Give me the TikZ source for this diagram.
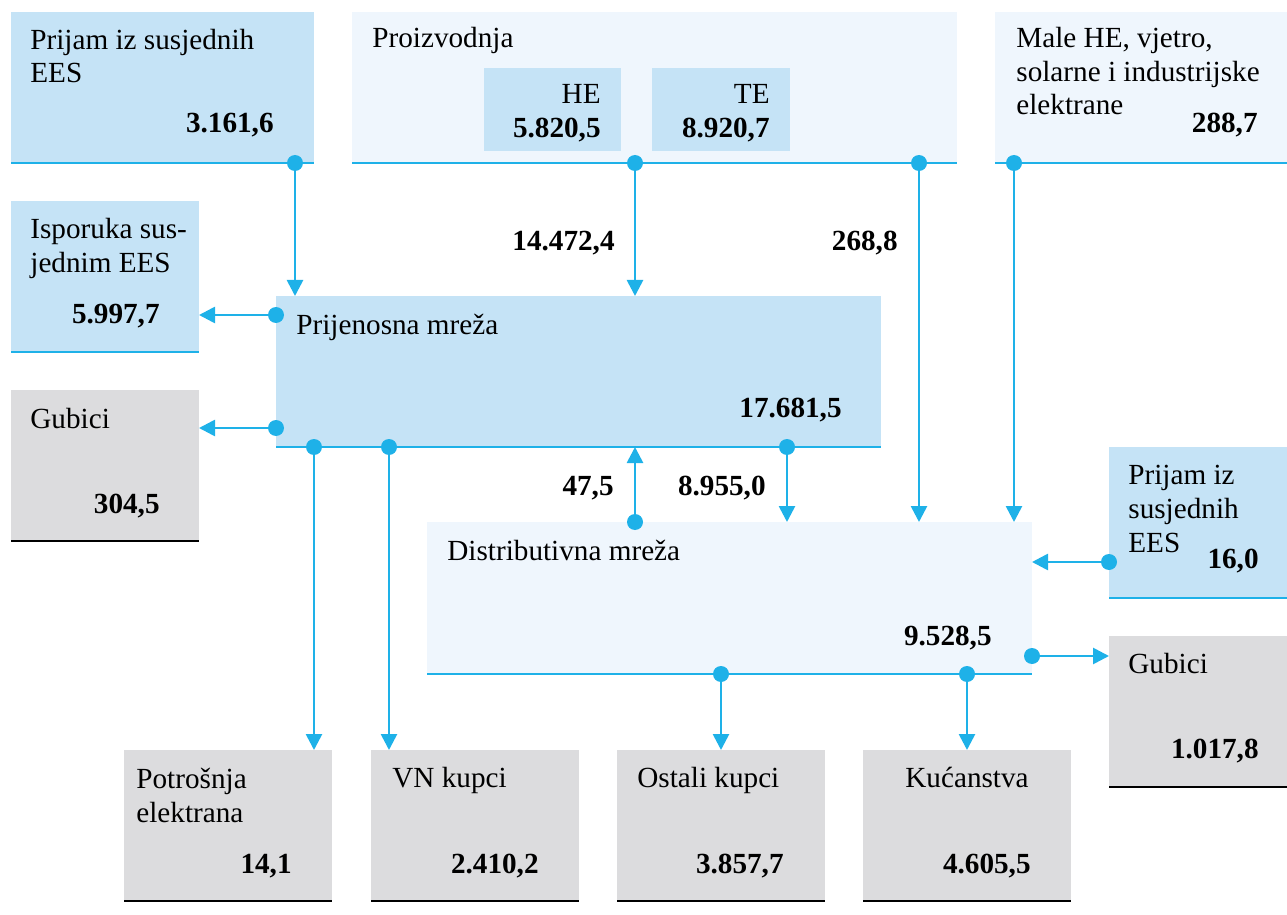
\documentclass[tikz,border=0pt]{standalone}
\usepackage{fontspec}
\setmainfont{Liberation Serif}
\usetikzlibrary{fit,arrows.meta}
\definecolor{lb}{HTML}{C5E3F6}
\definecolor{vlb}{HTML}{EFF6FD}
\definecolor{gr}{HTML}{DCDCDE}
\definecolor{cy}{HTML}{1EB1E8}
\begin{document}
\begin{tikzpicture}[x=0.5pt,y=-0.5pt,
  box/.style={inner sep=0pt, outer sep=0pt, draw=none},
  lbbox/.style={box, fill=lb},
  vlbbox/.style={box, fill=vlb},
  grbox/.style={box, fill=gr},
  txt/.style={anchor=base west, inner sep=0pt, align=left, font=\fontsize{14.6}{16.8}\selectfont},
  num/.style={anchor=base east, inner sep=0pt, font=\fontsize{14.6}{16.8}\selectfont\bfseries},
  lbl/.style={anchor=base east, inner sep=0pt, font=\fontsize{14.6}{16.8}\selectfont},
  flow/.style={draw=cy, line width=1.35pt, -{Triangle[length=8pt,width=8pt]}},
  dot/.style={circle, fill=cy, inner sep=0pt, minimum size=8pt},
  bl/.style={draw=cy, line width=1.2pt},
  kl/.style={draw=black, line width=1.3pt}]
\useasboundingbox (0,0) rectangle (1287,915);

% ---- boxes
\node[lbbox, fit={(11,12)(314,163)}] (prijamL) {};
\node[vlbbox, fit={(352,12)(957,163)}] (proizv) {};
\node[lbbox, fit={(484,68)(621,151)}] (he) {};
\node[lbbox, fit={(652,68)(790,151)}] (te) {};
\node[vlbbox, fit={(995,12)(1287,163)}] (male) {};
\node[lbbox, fit={(11,201)(199,352)}] (ispor) {};
\node[grbox, fit={(11,390)(199,541)}] (gubL) {};
\node[lbbox, fit={(276,296)(881,447)}] (prijen) {};
\node[vlbbox, fit={(427,522)(1032,674)}] (distr) {};
\node[lbbox, fit={(1109,447)(1287,598)}] (prijamR) {};
\node[grbox, fit={(1109,636)(1287,787)}] (gubR) {};
\node[grbox, fit={(124,750)(332,901)}] (potr) {};
\node[grbox, fit={(371,750)(579,901)}] (vn) {};
\node[grbox, fit={(617,750)(825,901)}] (ostali) {};
\node[grbox, fit={(863,750)(1071,901)}] (kuc) {};

% ---- bottom rules
\foreach \n in {prijamL,proizv,male,ispor,prijen,distr,prijamR}
  \draw[bl] (\n.south west) -- (\n.south east);
\foreach \n in {gubL,gubR,potr,vn,ostali,kuc}
  \draw[kl] (\n.south west) -- (\n.south east);

% ---- texts (base anchor = baseline of the last line)
\node[txt] (t1) at (30,83) {Prijam iz susjednih\\EES};
\node[num] (v1) at (274,133) {3.161,6};
\node[txt] (t2) at (372,48) {Proizvodnja};
\node[lbl] (the) at (601,104) {HE};
\node[num] (vhe) at (601,138) {5.820,5};
\node[lbl] (tte) at (770,104) {TE};
\node[num] (vte) at (770,138) {8.920,7};
\node[txt] (t3) at (1016,115) {Male HE, vjetro,\\solarne i industrijske\\elektrane};
\node[num] (v3) at (1258,133) {288,7};
\node[txt] (t4) at (30,272) {Isporuka sus-\\jednim EES};
\node[num] (v4) at (160,323) {5.997,7};
\node[txt] (t5) at (30,428) {Gubici};
\node[num] (v5) at (160,513) {304,5};
\node[txt] (t6) at (296,335) {Prijenosna mreža};
\node[num] (v6) at (842,417) {17.681,5};
\node[txt] (t7) at (447,560) {Distributivna mreža};
\node[num] (v7) at (992,645) {9.528,5};
\node[txt] (t8) at (1128,552) {Prijam iz\\susjednih\\EES};
\node[num] (v8) at (1259,568) {16,0};
\node[txt] (t9) at (1128,673) {Gubici};
\node[num] (v9) at (1259,758) {1.017,8};
\node[txt] (t10) at (136,822) {Potrošnja\\elektrana};
\node[num] (v10) at (292,873) {14,1};
\node[txt] (t11) at (392,787) {VN kupci};
\node[num] (v11) at (539,873) {2.410,2};
\node[txt] (t12) at (637,787) {Ostali kupci};
\node[num] (v12) at (784,873) {3.857,7};
\node[txt] (t13) at (905,787) {Kućanstva};
\node[num] (v13) at (1031,873) {4.605,5};

% flow labels
\node[num] (f1) at (615,250) {14.472,4};
\node[num] (f2) at (898,250) {268,8};
\node[num] (f3) at (614,495) {47,5};
\node[num] (f4) at (766,495) {8.955,0};

% ---- connectors
\coordinate (c1) at (295,163);
\coordinate (c2) at (635,163);
\coordinate (c3) at (919,163);
\coordinate (c4) at (1014,163);
\coordinate (c5) at (276,315);
\coordinate (c6) at (276,428);
\coordinate (c7) at (314,447);
\coordinate (c8) at (389,447);
\coordinate (c9) at (635,522);
\coordinate (c10) at (787,447);
\coordinate (c11) at (721,674);
\coordinate (c12) at (967,674);
\coordinate (c13) at (1032,656);
\coordinate (c14) at (1109,562);

\draw[flow] (c1) -- (c1 |- prijen.north);
\draw[flow] (c2) -- (c2 |- prijen.north);
\draw[flow] (c3) -- (c3 |- distr.north);
\draw[flow] (c4) -- (c4 |- distr.north);
\draw[flow] (c5) -- (c5 -| ispor.east);
\draw[flow] (c6) -- (c6 -| gubL.east);
\draw[flow] (c7) -- (c7 |- potr.north);
\draw[flow] (c8) -- (c8 |- vn.north);
\draw[flow] (c9) -- (c9 |- prijen.south);
\draw[flow] (c10) -- (c10 |- distr.north);
\draw[flow] (c11) -- (c11 |- ostali.north);
\draw[flow] (c12) -- (c12 |- kuc.north);
\draw[flow] (c13) -- (c13 -| gubR.west);
\draw[flow] (c14) -- (c14 -| distr.east);

\foreach \c in {c1,c2,c3,c4,c5,c6,c7,c8,c9,c10,c11,c12,c13,c14}
  \node[dot] at (\c) {};
\end{tikzpicture}
\end{document}
